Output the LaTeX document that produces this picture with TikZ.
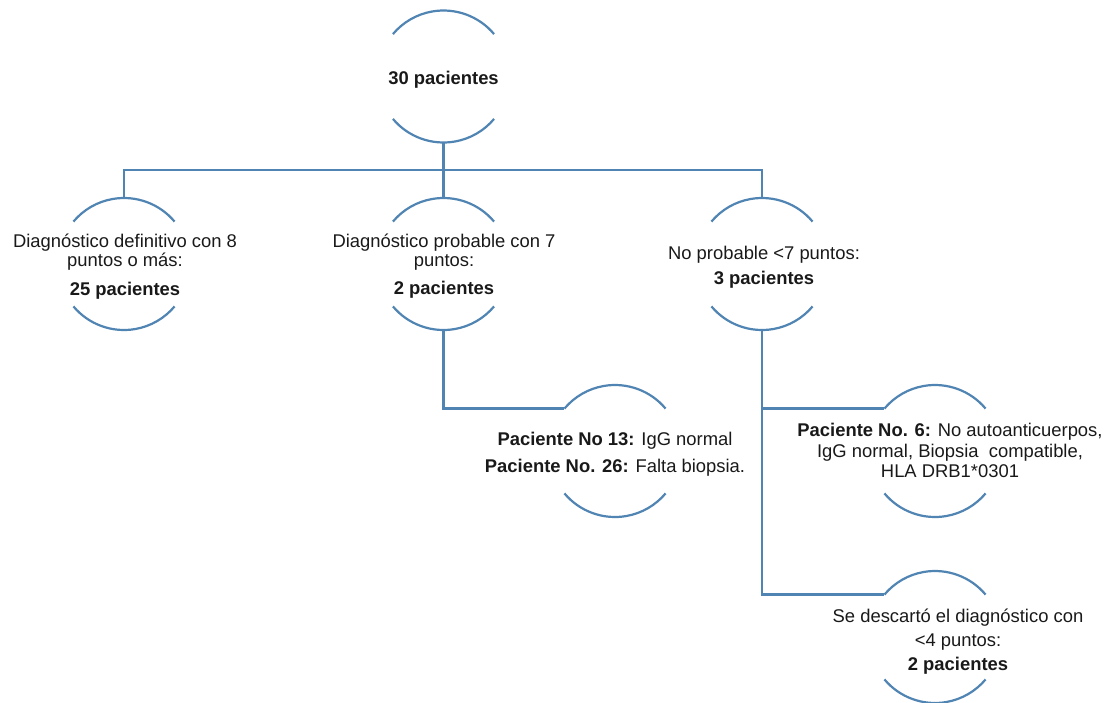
\documentclass[tikz,border=0pt]{standalone}
\usepackage{fontspec}
\setmainfont{Liberation Sans}
\definecolor{lineblue}{RGB}{80,132,178}
\definecolor{txtcol}{RGB}{25,25,25}
\begin{document}
\begin{tikzpicture}[x=1pt,y=-1pt,
  ring/.style={circle, minimum size=132pt, inner sep=0pt, outer sep=0pt},
  arcline/.style={draw=lineblue, line width=2.2pt},
  conn/.style={draw=lineblue, line width=2.2pt},
  txt/.style={anchor=base, inner sep=0pt, text=txtcol, font=\fontsize{18.4}{20}\selectfont},
  btxt/.style={txt, font=\fontsize{18.4}{20}\selectfont\bfseries}]
\useasboundingbox (0,0) rectangle (1108,702);

% ring nodes
\node[ring] (n0) at (443.5,76.5) {};
\node[ring] (n1) at (124,264) {};
\node[ring] (n2) at (443.5,264) {};
\node[ring] (n3) at (762,264) {};
\node[ring] (n4) at (615,451) {};
\node[ring] (n5) at (935,451) {};
\node[ring] (n6) at (935,637) {};

% arcs (top and bottom of each ring)
\foreach \n in {n0,n1,n2,n3,n4,n5,n6}{
  \draw[arcline] (\n.40) arc[start angle=40, end angle=140, radius=66pt];
  \draw[arcline] (\n.220) arc[start angle=220, end angle=320, radius=66pt];
}

% connectors
\coordinate (bus) at (443.5,170);
\draw[conn] (n0.south) -- (bus);
\draw[conn] (bus) -| (n1.north);
\draw[conn] (bus) -- (n2.north);
\draw[conn] (bus) -| (n3.north);
\draw[conn] (n2.south) |- (n4.140);
\draw[conn] (n3.south) |- (n5.140);
\draw[conn] (n3.south) |- (n6.140);

% texts
\node[btxt] (t0) at (443.5,84) {30 pacientes};

\node[txt] (t1a) at (125,247.5) {Diagnóstico definitivo con 8};
\node[txt] (t1b) at (125,266) {puntos o más:};
\node[btxt] (t1c) at (125,295) {25 pacientes};

\node[txt] (t2a) at (444,247.5) {Diagnóstico probable con 7};
\node[txt] (t2b) at (444,266) {puntos:};
\node[btxt] (t2c) at (444,294) {2 pacientes};

\node[txt] (t3a) at (764,259) {No probable <7 puntos:};
\node[btxt] (t3b) at (764,284) {3 pacientes};

\node[txt] (t4a) at (615,445) {\textbf{Paciente No 13:} IgG normal};
\node[txt] (t4b) at (615,472) {\textbf{Paciente No. 26:} Falta biopsia.};

\node[txt] (t5a) at (950,436) {\textbf{Paciente No. 6:} No autoanticuerpos,};
\node[txt] (t5b) at (950,457) {IgG normal, Biopsia\ \ compatible,};
\node[txt] (t5c) at (950,477) {HLA DRB1*0301};

\node[txt] (t6a) at (958,622) {Se descartó el diagnóstico con};
\node[txt] (t6b) at (958,646) {<4 puntos:};
\node[btxt] (t6c) at (958,670) {2 pacientes};
\end{tikzpicture}
\end{document}
